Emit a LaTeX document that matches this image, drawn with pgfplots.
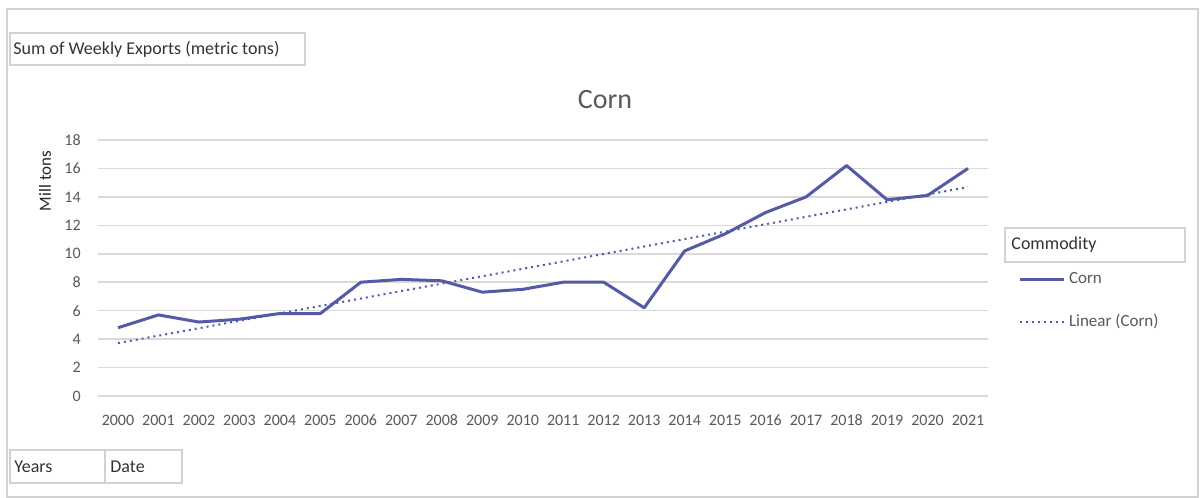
\documentclass[border=0pt]{standalone}
\usepackage{pgfplots}
\pgfplotsset{compat=1.18}
\usepackage{fontspec}
\setmainfont{Carlito}
\definecolor{cornline}{RGB}{84,90,166}
\definecolor{gridgray}{RGB}{217,217,217}
\definecolor{ticktext}{RGB}{89,89,89}
\definecolor{framegray}{RGB}{210,210,210}
\begin{document}
\begin{tikzpicture}
\fill[white] (0pt,0pt) rectangle (600.5pt,249pt);
\draw[framegray, line width=1pt] (3.5pt,0.5pt) rectangle (599pt,244.5pt);
% pivot field buttons
\draw[framegray, line width=0.75pt] (5pt,216.5pt) rectangle (152.5pt,232.5pt);
\node[anchor=west, font=\fontsize{9}{10}\selectfont, text=black!80, inner sep=0pt] at (6.5pt,224.5pt) {Sum of Weekly Exports (metric tons)};
\draw[framegray, line width=0.75pt] (5pt,7.5pt) rectangle (52.5pt,24pt);
\draw[framegray, line width=0.75pt] (52.5pt,7.5pt) rectangle (91pt,24pt);
\node[anchor=west, font=\fontsize{9}{10}\selectfont, text=black!80, inner sep=0pt] at (7pt,15.75pt) {Years};
\node[anchor=west, font=\fontsize{9}{10}\selectfont, text=black!80, inner sep=0pt] at (55pt,15.75pt) {Date};
% legend title button
\draw[framegray, line width=0.75pt] (502.5pt,118pt) rectangle (592.5pt,135pt);
\node[anchor=west, font=\fontsize{9}{10}\selectfont, text=black!80, inner sep=0pt] at (505.5pt,126.5pt) {Commodity};
\begin{axis}[
  at={(48.875pt,51pt)}, anchor=south west,
  scale only axis, width=445.25pt, height=128pt,
  xmin=-0.5, xmax=21.5, ymin=0, ymax=18,
  ytick={0,2,...,18},
  xtick={0,1,...,21},
  xticklabels={2000,2001,2002,2003,2004,2005,2006,2007,2008,2009,2010,2011,2012,2013,2014,2015,2016,2017,2018,2019,2020,2021},
  axis line style={draw=none}, tick style={draw=none},
  ymajorgrids, grid style={gridgray, line width=0.75pt},
  ticklabel style={font=\fontsize{8}{9}\selectfont, text=ticktext},
  /pgf/number format/assume math mode=true,
  yticklabel style={xshift=-5pt},
  xticklabel style={yshift=-6pt},
  ylabel={Mill tons},
  ylabel style={at={(axis description cs:-0.0593,0.84)}, anchor=center, font=\fontsize{8.5}{9}\selectfont, text=black!85},
  title={Corn},
  title style={at={(axis description cs:0.5696,1.113)}, anchor=center, font=\fontsize{14}{16}\selectfont, text=ticktext},
  legend style={at={(axis description cs:1.033,0.5)}, anchor=north west, draw=none, fill=none,
    font=\fontsize{8.5}{10}\selectfont, text=ticktext, row sep=10pt, inner sep=0pt,
    nodes={inner sep=2pt}},
  legend cell align=left,
  legend image code/.code={\draw[#1] (0pt,0pt) -- (22pt,0pt);},
  clip=false,
]
\addplot[cornline, line width=1.5pt, line join=round] coordinates {
(0,4.8) (1,5.7) (2,5.2) (3,5.4) (4,5.8) (5,5.8) (6,8.0) (7,8.2) (8,8.1) (9,7.3) (10,7.5)
(11,8.0) (12,8.0) (13,6.2) (14,10.2) (15,11.4) (16,12.9) (17,14.0) (18,16.2) (19,13.8) (20,14.1) (21,16.0)
};
\addlegendentry{Corn}
\addplot[cornline, line width=1pt, dotted] coordinates {(0,3.72) (21,14.69)};
\addlegendentry{Linear (Corn)}
\end{axis}
\end{tikzpicture}
\end{document}
